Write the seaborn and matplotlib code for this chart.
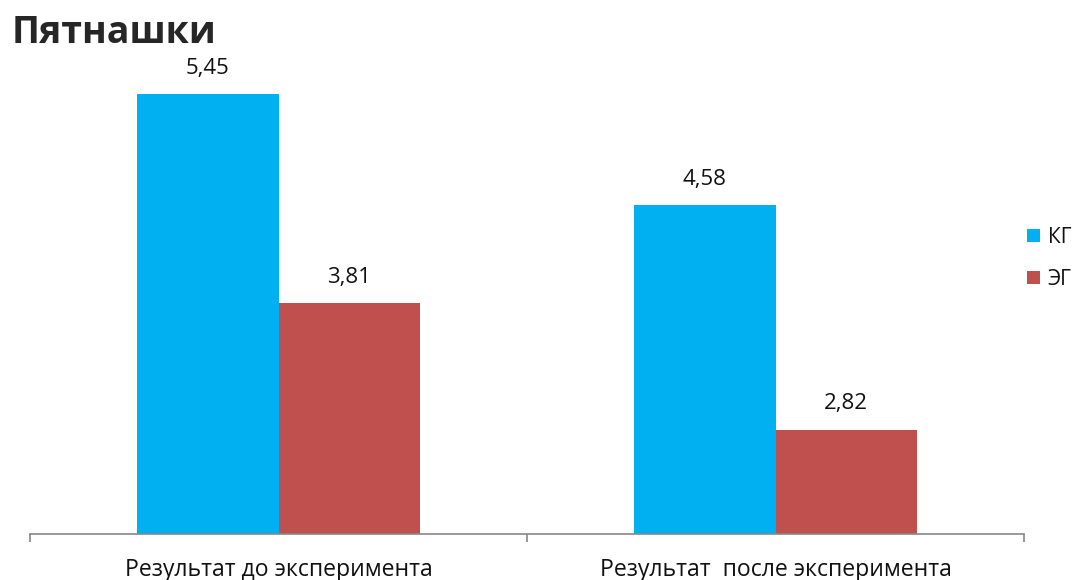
import matplotlib
matplotlib.use("Agg")
import matplotlib.pyplot as plt
import seaborn as sns
import pandas as pd

categories = ["Результат до эксперимента", "Результат  после эксперимента"]
groups = ["КГ", "ЭГ"]
kg_values = [5.45, 4.58]
eg_values = [3.81, 2.82]
colors = ["#00B0F0", "#C0504D"]
title = "Пятнашки"

df = pd.DataFrame({
    "cat": categories * 2,
    "group": [groups[0]] * 2 + [groups[1]] * 2,
    "value": kg_values + eg_values,
})

sns.set_style("white")
plt.rcParams["font.family"] = ["Open Sans", "DejaVu Sans"]

fig = plt.figure(figsize=(10.76, 5.8), dpi=100)
ax = fig.add_axes([30 / 1076, 46 / 580, (1024 - 30) / 1076, (534 - 24.4) / 580])

sns.barplot(data=df, x="cat", y="value", hue="group", palette=colors,
            width=0.57, ax=ax, saturation=1, legend=True, linewidth=0)

ax.set_ylim(2, 6)
ax.set_xlim(-0.5, 1.5)
ax.set_xlabel("")
ax.set_ylabel("")
ax.set_yticks([])
for s in ["top", "right", "left"]:
    ax.spines[s].set_visible(False)
ax.spines["bottom"].set_color("#888888")
ax.spines["bottom"].set_linewidth(1.2)
ax.set_xticks([-0.5, 0.5, 1.5], minor=False)
ax.set_xticklabels([])
ax.set_xticks([0, 1], minor=True)
ax.set_xticklabels(categories, minor=True, fontsize=16.6, color="#111111")
ax.tick_params(axis="x", which="major", direction="out", length=6, width=1.2, color="#888888", bottom=True)
ax.tick_params(axis="x", which="minor", length=0, pad=17, bottom=True)

for container in ax.containers:
    labels = [f"{v:.2f}".replace(".", ",") for v in container.datavalues]
    ax.bar_label(container, labels=labels, padding=11, fontsize=16, color="#111111")

leg = ax.legend(loc="upper left", bbox_to_anchor=(1027 / 1076, 1 - 227 / 580),
                bbox_transform=fig.transFigure, frameon=False, fontsize=15,
                handlelength=0.6, handleheight=0.6, handletextpad=0.4,
                labelspacing=1.0, borderaxespad=0, borderpad=0)
for t in leg.get_texts():
    t.set_color("#111111")

fig.text(12 / 1076, 1 - 33 / 580, title, fontsize=27, fontweight="bold", va="center", ha="left")

fig.savefig("out.png", dpi=100)
